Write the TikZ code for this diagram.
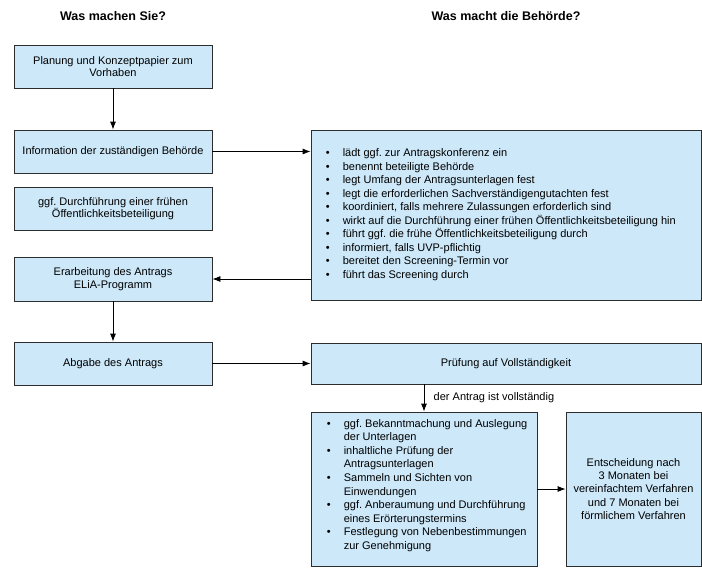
\documentclass[tikz,border=0pt]{standalone}
\usepackage{fontspec}
\setmainfont{Liberation Sans}
\usepackage{xcolor}
\usetikzlibrary{arrows.meta}
\definecolor{boxfill}{RGB}{204,232,249}
\definecolor{boxline}{RGB}{45,45,45}
\newcommand{\bul}{\makebox[17pt][l]{\textbullet}}
\newcommand{\ind}{\hspace*{17pt}}

\begin{document}
\frenchspacing
\begin{tikzpicture}[x=1pt,y=-1pt,
  box/.style={draw=boxline, fill=boxfill, line width=0.8pt, inner sep=0pt, align=center,
    minimum width=198pt, minimum height=43pt, font=\fontsize{11}{12.6}\selectfont},
  liste/.style={align=left, inner sep=0pt, font=\fontsize{11}{13.6}\selectfont},
  head/.style={font=\fontsize{12.5}{14}\selectfont\bfseries},
  pfeil/.style={line width=0.8pt, >={Latex[length=8pt,width=6pt]}, ->}]
\useasboundingbox (0,0) rectangle (702,568);

\node[head] (kopfl) at (113,16) {Was machen Sie?};
\node[head] (kopfr) at (506,16) {Was macht die Behörde?};

\node[box] (plan) at (113,66.5) {Planung und Konzeptpapier zum\\Vorhaben};
\node[box] (info) at (113,151.5) {Information der zuständigen Behörde};
\node[box] (frueh) at (113,208.5) {ggf. Durchführung einer frühen\\Öffentlichkeitsbeteiligung};
\node[box, minimum height=44pt] (antrag) at (113,279) {Erarbeitung des Antrags\\ELiA-Programm};
\node[box] (abgabe) at (113,363.5) {Abgabe des Antrags};

\node[box, minimum width=390pt, minimum height=170pt] (behoerde) at (506,215) {};
\node[liste, font=\fontsize{11}{13.5}\selectfont, anchor=west] (aufgaben) at ([xshift=15pt,yshift=0.5pt]behoerde.west)
  {\bul lädt ggf. zur Antragskonferenz ein\\
   \bul benennt beteiligte Behörde\\
   \bul legt Umfang der Antragsunterlagen fest\\
   \bul legt die erforderlichen Sachverständigengutachten fest\\
   \bul koordiniert, falls mehrere Zulassungen erforderlich sind\\
   \bul wirkt auf die Durchführung einer frühen Öffentlichkeitsbeteiligung hin\\
   \bul führt ggf. die frühe Öffentlichkeitsbeteiligung durch\\
   \bul informiert, falls UVP-pflichtig\\
   \bul bereitet den Screening-Termin vor\\
   \bul führt das Screening durch};
\node[box, minimum width=390pt, minimum height=41pt] (pruefung) at (506,363.5) {Prüfung auf Vollständigkeit};

\node[box, minimum width=226pt, minimum height=154pt] (pruefen) at (424,489) {};
\node[liste, anchor=west] (punkte) at ([xshift=16pt,yshift=3.5pt]pruefen.west)
  {\bul ggf. Bekanntmachung und Auslegung\\
   \ind der Unterlagen\\
   \bul inhaltliche Prüfung der\\
   \ind Antragsunterlagen\\
   \bul Sammeln und Sichten von\\
   \ind Einwendungen\\
   \bul ggf. Anberaumung und Durchführung\\
   \ind eines Erörterungstermins\\
   \bul Festlegung von Nebenbestimmungen\\
   \ind zur Genehmigung};
\node[box, minimum width=135pt, minimum height=154pt, font=\fontsize{11}{13.25}\selectfont] (entscheid) at (633.5,489)
  {Entscheidung nach\\3 Monaten bei\\vereinfachtem Verfahren\\und 7 Monaten bei\\förmlichem Verfahren};

\draw[pfeil] (plan) -- (info);
\draw[pfeil] (info.east) -- (info.east -| behoerde.west);
\draw[pfeil] (antrag.east -| behoerde.west) -- (antrag.east);
\draw[pfeil] (antrag) -- (abgabe);
\draw[pfeil] (abgabe) -- (pruefung);
\draw[pfeil] (pruefung.south -| pruefen.north) -- node[midway, right=6pt, font=\fontsize{11}{13}\selectfont] (vollst) {der Antrag ist vollständig} (pruefen.north);
\draw[pfeil] (pruefen) -- (entscheid);

\end{tikzpicture}
\end{document}
